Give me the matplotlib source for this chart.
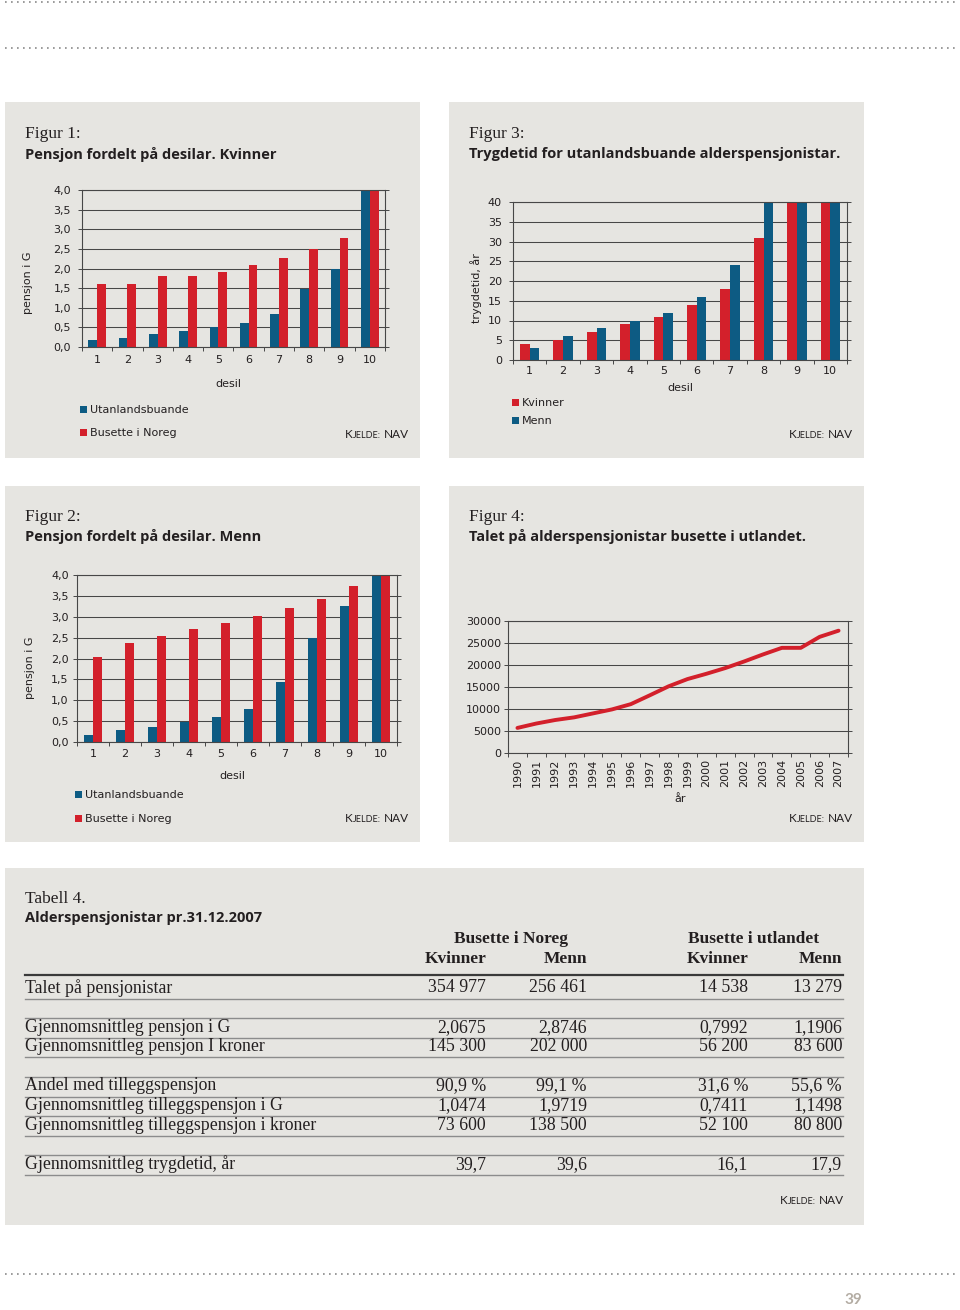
import matplotlib
matplotlib.use("Agg")
import matplotlib.pyplot as plt
from matplotlib.patches import Rectangle
import numpy as np

#%% data lese av figurane
desil = list(range(1, 11))

# Figur 1: pensjon i G, kvinner
kv_utland = [0.17, 0.23, 0.32, 0.41, 0.51, 0.62, 0.84, 1.49, 2.0, 4.0]
kv_noreg = [1.6, 1.6, 1.8, 1.8, 1.92, 2.1, 2.28, 2.5, 2.77, 4.0]

# Figur 2: pensjon i G, menn
menn_utland = [0.17, 0.28, 0.37, 0.48, 0.61, 0.80, 1.43, 2.48, 3.25, 4.0]
menn_noreg = [2.03, 2.38, 2.55, 2.71, 2.86, 3.02, 3.2, 3.43, 3.73, 4.0]

# Figur 3: trygdetid
trygd_kvinner = [4, 5, 7, 9, 11, 14, 18, 31, 40, 40]
trygd_menn = [3, 6, 8, 10, 12, 16, 24, 40, 40, 40]

# Figur 4: alderspensjonistar busette i utlandet
aar = list(range(1990, 2008))
talet_utland = [5700, 6700, 7500, 8100, 9000, 9900, 11100, 13100, 15150,
                16800, 18000, 19300, 20800, 22400, 23900, 23900, 26400, 27800]

# Tabell 4
tab_kolonnar = ["Kvinner", "Menn", "Kvinner", "Menn"]
tab_grupper = ["Busette i Noreg", "Busette i utlandet"]
tab_rader = [
    ["Talet på pensjonistar"],
    ["Gjennomsnittleg pensjon i G", "Gjennomsnittleg pensjon I kroner"],
    ["Andel med tilleggspensjon", "Gjennomsnittleg tilleggspensjon i G",
     "Gjennomsnittleg tilleggspensjon i kroner"],
    ["Gjennomsnittleg trygdetid, år"],
]
tab_verdiar = [
    [["354 977", "256 461", "14 538", "13 279"]],
    [["2,0675", "2,8746", "0,7992", "1,1906"],
     ["145 300", "202 000", "56 200", "83 600"]],
    [["90,9 %", "99,1 %", "31,6 %", "55,6 %"],
     ["1,0474", "1,9719", "0,7411", "1,1498"],
     ["73 600", "138 500", "52 100", "80 800"]],
    [["39,7", "39,6", "16,1", "17,9"]],
]

#%% stil
W, H = 960, 1310
RAUD = "#d3202b"
BLAA = "#0d5b83"
BG = "#e6e5e1"
TXT = "#231f20"
AKSE = "#474747"
SANS = "DejaVu Sans"
SERIF = "Liberation Serif"
TITTEL = "Open Sans"
FS = 8  # skriftstorleik i diagramma

fig = plt.figure(figsize=(W / 100, H / 100), dpi=100)

# bakgrunnsakse i pikselkoordinatar
bg = fig.add_axes([0, 0, 1, 1], zorder=-1)
bg.set_xlim(0, W)
bg.set_ylim(H, 0)
bg.axis("off")

# prikklinjer topp og botn
for y, x0, x1 in [(2, 5, 958), (48, 5, 958), (1274, 5, 955)]:
    bg.plot([x0, x1], [y, y], color="#8a8a8a", lw=1.2, ls=(0, (1, 2.6)))
bg.text(853, 1300, "39", ha="center", va="center", fontsize=11,
        color="#b3aca3", family="Lato", weight="bold")

# grå panel
for (l, t, r, b) in [(5, 102, 420, 458), (449, 102, 864, 458),
                     (5, 486, 420, 842), (449, 486, 864, 842),
                     (5, 868, 864, 1225)]:
    bg.add_patch(Rectangle((l, t), r - l, b - t, color=BG, lw=0))


def tittel(x, y, nr, tekst):
    bg.text(x, y + 1, nr, ha="left", va="center", fontsize=12.5,
            family=SERIF, color=TXT)
    bg.text(x, y + 21, tekst, ha="left", va="center", fontsize=10.5,
            family=TITTEL, weight="bold", color=TXT)


def kjelde(xr, y):
    # "Kjelde: NAV" med kapitelar
    t1 = bg.text(xr, y, "NAV", ha="right", va="center", fontsize=8.5,
                 family="Lato", color=TXT)
    t2 = bg.annotate("JELDE:", xy=(0, 0), xycoords=t1, xytext=(-2.2, 0),
                     textcoords="offset points", ha="right", va="bottom",
                     fontsize=6.5, family="Lato", color=TXT)
    bg.annotate("K", xy=(0, 0), xycoords=t2, xytext=(0, 0),
                textcoords="offset points", ha="right", va="bottom",
                fontsize=8.5, family="Lato", color=TXT)


def forklaring(x, y, farge, tekst):
    bg.add_patch(Rectangle((x, y - 4), 7, 7, color=farge, lw=0))
    bg.text(x + 10, y, tekst, ha="left", va="center", fontsize=FS,
            family=SANS, color=TXT)


def ax_px(l, t, r, b):
    return fig.add_axes([l / W, 1 - b / H, (r - l) / W, (b - t) / H])


def stil_akse(ax, ypad):
    ax.set_facecolor("none")
    for s in ax.spines.values():
        s.set_color(AKSE)
        s.set_linewidth(0.8)
    ax.grid(axis="y", color=AKSE, lw=0.75)
    ax.set_axisbelow(True)
    ax.tick_params(axis="both", which="both", colors=AKSE, labelcolor=TXT,
                   labelsize=FS, length=3, width=0.7)
    ax.tick_params(axis="y", right=True, pad=ypad)
    for lab in ax.get_xticklabels(which="both") + ax.get_yticklabels():
        lab.set_family(SANS)


def komma(v):
    return f"{v:.1f}".replace(".", ",")


def stolpar(ax, v1, v2, c1, c2, ymax, ysteg, fmt, xpad, ypad):
    x = np.array(desil)
    ax.bar(x - 0.145, v1, 0.29, color=c1, lw=0, zorder=2)
    ax.bar(x + 0.145, v2, 0.29, color=c2, lw=0, zorder=2)
    ax.set_xlim(0.5, 10.5)
    ax.set_ylim(0, ymax)
    yt = np.arange(0, ymax + ysteg / 2, ysteg)
    ax.set_yticks(yt)
    ax.set_yticklabels([fmt(v) for v in yt])
    ax.set_xticks(np.arange(0.5, 11, 1))
    ax.set_xticklabels([])
    ax.set_xticks(x, minor=True)
    ax.set_xticklabels([str(d) for d in desil], minor=True)
    stil_akse(ax, ypad)
    ax.tick_params(axis="x", which="minor", length=0, pad=xpad)


#%% Figur 1
tittel(25, 133, "Figur 1:", "Pensjon fordelt på desilar. Kvinner")
ax1 = ax_px(82, 190, 385, 347)
stolpar(ax1, kv_utland, kv_noreg, BLAA, RAUD, 4.0, 0.5, komma, 6, 5)
bg.text(28, 283, "pensjon i G", rotation=90, ha="center", va="center",
        fontsize=FS, family=SANS, color=TXT)
bg.text(228, 384, "desil", ha="center", va="center", fontsize=FS,
        family=SANS, color=TXT)
forklaring(80, 410, BLAA, "Utanlandsbuande")
forklaring(80, 433, RAUD, "Busette i Noreg")
kjelde(409, 435)

#%% Figur 3
tittel(469, 133, "Figur 3:", "Trygdetid for utanlandsbuande alderspensjonistar.")
ax3 = ax_px(513, 202, 847, 360)
stolpar(ax3, trygd_kvinner, trygd_menn, RAUD, BLAA, 40, 5,
        lambda v: f"{v:.0f}", 4, 5)
bg.text(476, 288, "trygdetid, år", rotation=90, ha="center", va="center",
        fontsize=FS, family=SANS, color=TXT)
bg.text(680, 388, "desil", ha="center", va="center", fontsize=FS,
        family=SANS, color=TXT)
forklaring(512, 403, RAUD, "Kvinner")
forklaring(512, 421, BLAA, "Menn")
kjelde(853, 435)

#%% Figur 2
tittel(25, 516, "Figur 2:", "Pensjon fordelt på desilar. Menn")
ax2 = ax_px(77, 575, 397, 742)
stolpar(ax2, menn_utland, menn_noreg, BLAA, RAUD, 4.0, 0.5, komma, 5, 3)
bg.text(30, 668, "pensjon i G", rotation=90, ha="center", va="center",
        fontsize=FS, family=SANS, color=TXT)
bg.text(232, 776, "desil", ha="center", va="center", fontsize=FS,
        family=SANS, color=TXT)
forklaring(75, 795, BLAA, "Utanlandsbuande")
forklaring(75, 819, RAUD, "Busette i Noreg")
kjelde(409, 819)

#%% Figur 4
tittel(469, 516, "Figur 4:", "Talet på alderspensjonistar busette i utlandet.")
ax4 = ax_px(508, 621, 848, 753)
xi = np.arange(len(aar))
ax4.plot(xi, talet_utland, color=RAUD, lw=2.8, solid_capstyle="round",
         zorder=3)
ax4.set_xlim(-0.5, len(aar) - 0.5)
ax4.set_ylim(0, 30000)
ax4.set_yticks(np.arange(0, 30001, 5000))
ax4.set_xticks(np.arange(-0.5, len(aar), 1))
ax4.set_xticklabels([])
ax4.set_xticks(xi, minor=True)
ax4.set_xticklabels([str(a) for a in aar], minor=True, rotation=90)
stil_akse(ax4, 2)
ax4.tick_params(axis="x", which="minor", length=0, pad=4)
bg.text(680, 799, "år", ha="center", va="center", fontsize=FS,
        family=SANS, color=TXT)
kjelde(853, 819)

#%% Tabell 4
bg.text(25, 899, "Tabell 4.", ha="left", va="center", fontsize=12.5,
        family=SERIF, color=TXT)
bg.text(25, 918, "Alderspensjonistar pr.31.12.2007", ha="left", va="center",
        fontsize=10.5, family=TITTEL, weight="bold", color=TXT)

kol_x = [486, 587, 748, 842]
for gx, g in zip([511, 754], tab_grupper):
    bg.text(gx, 939, g, ha="center", va="center", fontsize=12.5,
            family=SERIF, weight="bold", color=TXT)
for kx, k in zip(kol_x, tab_kolonnar):
    bg.text(kx, 959, k, ha="right", va="center", fontsize=12.5,
            family=SERIF, weight="bold", color=TXT)

bg.plot([25, 843], [975, 975], color="#3a3a3a", lw=1.6)
rad_h = 19.6
k = 0
for gi, (namn, verdi) in enumerate(zip(tab_rader, tab_verdiar)):
    if gi > 0:
        k += 1
        ytop = 988 + rad_h * k - 9.5
        bg.plot([25, 843], [ytop, ytop], color="#8c8c8c", lw=1.0)
    for n, vals in zip(namn, verdi):
        y = 988 + rad_h * k
        bg.text(25, y, n, ha="left", va="center", fontsize=12.8,
                family=SERIF, color=TXT)
        for kx, v in zip(kol_x, vals):
            bg.text(kx, y, v, ha="right", va="center", fontsize=12.8,
                    family=SERIF, color=TXT)
        bg.plot([25, 843], [y + 10.5, y + 10.5], color="#8c8c8c", lw=1.0)
        k += 1
kjelde(844, 1200)

fig.savefig("out.png", dpi=100)
